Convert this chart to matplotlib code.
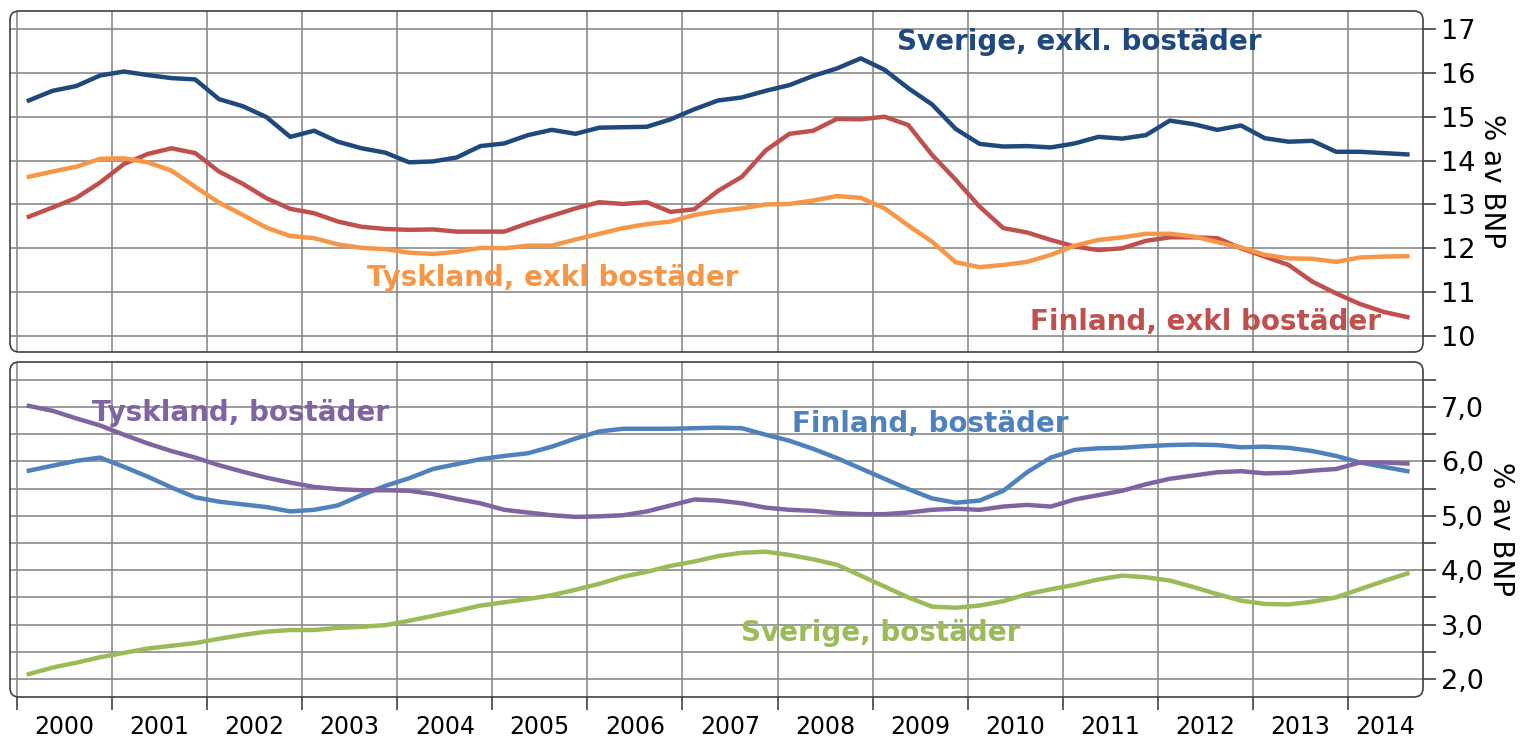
import matplotlib
matplotlib.use("Agg")
import matplotlib.pyplot as plt
from matplotlib.patches import FancyBboxPatch
from matplotlib.ticker import FixedLocator, NullFormatter
import numpy as np

# ---- data (quarterly, 2000Q1 - 2014Q3) ----
start_year = 2000
n_quarters = 59
years = list(range(2000, 2015))

sverige_exkl = [15.37, 15.59, 15.70, 15.94, 16.03, 15.95, 15.88, 15.85, 15.40, 15.24, 14.99, 14.54, 14.68, 14.43, 14.28,
                14.18, 13.96, 13.98, 14.07, 14.33, 14.39, 14.58, 14.70, 14.61, 14.75, 14.76, 14.77, 14.94, 15.17, 15.37,
                15.44, 15.59, 15.72, 15.93, 16.10, 16.33, 16.07, 15.65, 15.28, 14.72, 14.38, 14.32, 14.33, 14.30, 14.39,
                14.54, 14.50, 14.58, 14.91, 14.83, 14.70, 14.80, 14.51, 14.43, 14.45, 14.20, 14.20, 14.17, 14.14]
finland_exkl = [12.72, 12.93, 13.15, 13.50, 13.92, 14.15, 14.28, 14.17, 13.75, 13.47, 13.14, 12.90, 12.80, 12.61, 12.49,
                12.44, 12.42, 12.43, 12.38, 12.38, 12.38, 12.57, 12.74, 12.91, 13.05, 13.01, 13.05, 12.83, 12.89, 13.31,
                13.63, 14.23, 14.61, 14.68, 14.95, 14.94, 15.00, 14.81, 14.13, 13.56, 12.95, 12.46, 12.36, 12.19, 12.04,
                11.96, 12.00, 12.17, 12.25, 12.25, 12.23, 12.00, 11.81, 11.62, 11.24, 10.97, 10.73, 10.55, 10.43]
tyskland_exkl = [13.63, 13.75, 13.86, 14.04, 14.05, 13.96, 13.77, 13.40, 13.04, 12.76, 12.47, 12.28, 12.23, 12.09, 12.01,
                 11.98, 11.90, 11.87, 11.92, 12.01, 12.00, 12.06, 12.06, 12.20, 12.33, 12.46, 12.55, 12.61, 12.76, 12.85,
                 12.91, 13.00, 13.01, 13.09, 13.19, 13.15, 12.91, 12.52, 12.15, 11.68, 11.57, 11.62, 11.69, 11.85, 12.06,
                 12.19, 12.25, 12.33, 12.33, 12.27, 12.14, 12.02, 11.85, 11.77, 11.76, 11.69, 11.79, 11.81, 11.82]

finland_bost = [5.83, 5.92, 6.01, 6.07, 5.90, 5.72, 5.52, 5.34, 5.26, 5.21, 5.16, 5.08, 5.11, 5.19, 5.38,
                5.55, 5.69, 5.86, 5.95, 6.04, 6.10, 6.15, 6.27, 6.42, 6.55, 6.60, 6.60, 6.60, 6.61, 6.62,
                6.61, 6.49, 6.38, 6.23, 6.06, 5.87, 5.68, 5.49, 5.32, 5.24, 5.28, 5.46, 5.80, 6.07, 6.21,
                6.24, 6.25, 6.28, 6.30, 6.31, 6.30, 6.26, 6.27, 6.25, 6.19, 6.10, 5.98, 5.90, 5.82]
tyskland_bost = [7.02, 6.93, 6.79, 6.66, 6.49, 6.33, 6.19, 6.07, 5.93, 5.81, 5.70, 5.61, 5.53, 5.49, 5.47,
                 5.47, 5.46, 5.40, 5.31, 5.23, 5.11, 5.06, 5.01, 4.98, 4.99, 5.01, 5.08, 5.19, 5.30, 5.28,
                 5.23, 5.15, 5.11, 5.09, 5.05, 5.03, 5.03, 5.06, 5.11, 5.13, 5.11, 5.17, 5.20, 5.17, 5.30,
                 5.38, 5.46, 5.58, 5.68, 5.74, 5.80, 5.82, 5.78, 5.79, 5.83, 5.86, 5.98, 5.98, 5.96]
sverige_bost = [2.09, 2.21, 2.30, 2.40, 2.48, 2.56, 2.61, 2.66, 2.74, 2.81, 2.87, 2.90, 2.90, 2.94, 2.96,
                2.99, 3.07, 3.16, 3.25, 3.35, 3.41, 3.47, 3.54, 3.64, 3.75, 3.88, 3.97, 4.08, 4.16, 4.26,
                4.32, 4.34, 4.28, 4.20, 4.10, 3.90, 3.70, 3.50, 3.33, 3.31, 3.35, 3.43, 3.56, 3.65, 3.73,
                3.83, 3.90, 3.87, 3.81, 3.69, 3.56, 3.44, 3.38, 3.37, 3.42, 3.50, 3.65, 3.80, 3.94]

top_ticks = [10, 11, 12, 13, 14, 15, 16, 17]
bottom_ticks = [2.0, 3.0, 4.0, 5.0, 6.0, 7.0]

# quarter centres
x = np.array([start_year + (i + 0.5) / 4 for i in range(n_quarters)])

C_SE_EX = "#1F497D"
C_FI_EX = "#C0504D"
C_DE_EX = "#F79646"
C_FI_B = "#4F81BD"
C_DE_B = "#8064A2"
C_SE_B = "#9BBB59"

plt.rcParams['font.family'] = ['DejaVu Sans']
W, H = 15.22, 7.39
fig = plt.figure(figsize=(W, H), dpi=100)

left_px, right_px = 10, 1423
def axpos(top_px, bot_px):
    return [left_px / 1522, (739 - bot_px) / 739, (right_px - left_px) / 1522, (bot_px - top_px) / 739]

ax1 = fig.add_axes(axpos(11, 352))
ax2 = fig.add_axes(axpos(362, 697))

xl = (1999.927, 2014.789)
gridc = "#8a8a8a"
for ax in (ax1, ax2):
    ax.set_xlim(*xl)
    ax.set_facecolor("none")
    for s in ax.spines.values():
        s.set_visible(False)
    ax.yaxis.tick_right()
    ax.yaxis.set_label_position("right")
    ax.xaxis.set_major_locator(FixedLocator(years))
    ax.grid(True, which="major", axis="x", color=gridc, lw=1.2)
    ax.tick_params(axis="y", which="both", length=9, width=1.2, color="#404040",
                   labelsize=19.5, pad=4, direction="out")
    ax.set_axisbelow(True)

# top panel
ax1.set_ylim(9.635, 17.41)
ax1.yaxis.set_major_locator(FixedLocator(top_ticks))
ax1.set_yticklabels([str(t) for t in top_ticks])
ax1.grid(True, which="major", axis="y", color=gridc, lw=1.2)
ax1.tick_params(axis="x", which="both", length=0, labelbottom=False)
ax1.plot(x, sverige_exkl, color=C_SE_EX, lw=3.2, solid_joinstyle="round")
ax1.plot(x, finland_exkl, color=C_FI_EX, lw=3.2, solid_joinstyle="round")
ax1.plot(x, tyskland_exkl, color=C_DE_EX, lw=3.2, solid_joinstyle="round")
ax1.set_ylabel("% av BNP", rotation=270, fontsize=20, labelpad=22)

# bottom panel
ax2.set_ylim(1.669, 7.827)
ax2.yaxis.set_major_locator(FixedLocator(bottom_ticks))
ax2.yaxis.set_minor_locator(FixedLocator([2.5, 3.5, 4.5, 5.5, 6.5, 7.5]))
ax2.set_yticklabels([f"{t:.1f}".replace(".", ",") for t in bottom_ticks])
ax2.yaxis.set_minor_formatter(NullFormatter())
ax2.grid(True, which="both", axis="y", color=gridc, lw=1.2)
ax2.plot(x, finland_bost, color=C_FI_B, lw=3.2, solid_joinstyle="round")
ax2.plot(x, tyskland_bost, color=C_DE_B, lw=3.2, solid_joinstyle="round")
ax2.plot(x, sverige_bost, color=C_SE_B, lw=3.2, solid_joinstyle="round")
ax2.set_ylabel("% av BNP", rotation=270, fontsize=20, labelpad=22)

# x axis: ticks at year boundaries, labels centred in the year
ax2.tick_params(axis="x", which="major", length=9, width=1.2, color="#404040", labelbottom=False)
ax2.xaxis.set_minor_locator(FixedLocator([min(y + 0.5, (y + xl[1]) / 2) for y in years]))
ax2.set_xticklabels([str(y) for y in years], minor=True)
ax2.tick_params(axis="x", which="minor", length=0, labelsize=17, pad=13)

# series labels
kw = dict(fontsize=20, fontweight="bold", ha="left", va="center")
ax1.text(2009.256, 16.70, "Sverige, exkl. bostäder", color=C_SE_EX, **kw)
ax1.text(2003.68, 11.32, "Tyskland, exkl bostäder", color=C_DE_EX, **kw)
ax1.text(2010.655, 10.32, "Finland, exkl bostäder", color=C_FI_EX, **kw)
ax2.text(2000.79, 6.89, "Tyskland, bostäder", color=C_DE_B, **kw)
ax2.text(2008.15, 6.69, "Finland, bostäder", color=C_FI_B, **kw)
ax2.text(2007.62, 2.85, "Sverige, bostäder", color=C_SE_B, **kw)

# rounded frames
for (t, b) in [(11, 352), (362, 697)]:
    fig.patches.append(FancyBboxPatch((left_px / 100, (739 - b) / 100), (right_px - left_px) / 100, (b - t) / 100,
                                      boxstyle="round,pad=0,rounding_size=0.09",
                                      transform=fig.dpi_scale_trans, fill=False,
                                      ec="#404040", lw=1.2, zorder=5))

fig.savefig("out.png", dpi=100)
